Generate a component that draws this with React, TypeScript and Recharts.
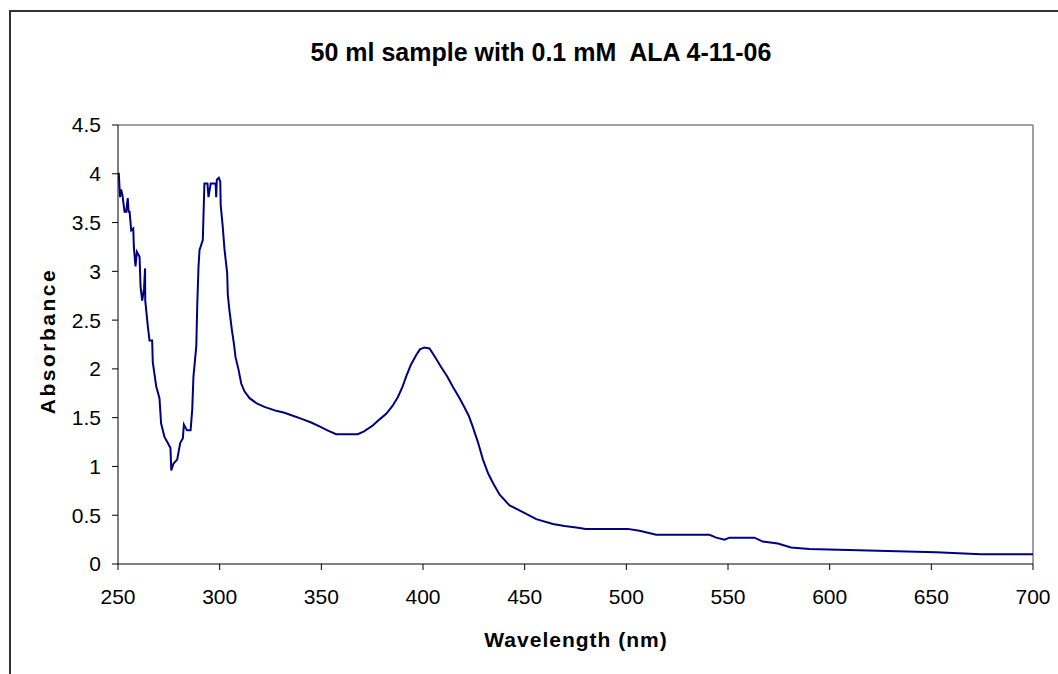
import React from 'react';
import { LineChart, Line, XAxis, YAxis, ReferenceLine, Label } from 'recharts';

const title = '50 ml sample with 0.1 mM\u00a0 ALA 4-11-06';
const xTitle = 'Wavelength (nm)';
const yTitle = 'Absorbance';

const xTicks = [250, 300, 350, 400, 450, 500, 550, 600, 650, 700];
const yTicks = [0, 0.5, 1, 1.5, 2, 2.5, 3, 3.5, 4, 4.5];

// wavelength (nm)
const wavelengths = [
  250, 250.4, 251.0, 251.5, 252.2, 253.2, 254.0, 254.8, 255.2, 255.7,
  256.5, 257.5, 257.8, 258.6, 259.3, 260.6, 261.1, 261.9, 262.8, 263.3,
  263.4, 264.7, 265.5, 266.8, 267.1, 268.8, 270.4, 271.2, 272.9, 274.5,
  275.8, 276.2, 277.3, 279.1, 280.6, 281.9, 282.4, 283.9, 285.7, 286.5,
  287.1, 288.5, 289.0, 289.6, 290.1, 291.7, 292.5, 294.0, 294.5, 295.6,
  298.0, 298.3, 298.6, 299.6, 300.3, 300.5, 301.5, 302.4, 303.7, 304.0,
  304.8, 306.0, 307.0, 307.8, 309.3, 310.6, 312.2, 314.7, 318.0, 322.0,
  327.8, 331.9, 336.0, 340.0, 345.0, 349.1, 353.0, 357.3, 367.9, 371.0,
  375.3, 378.5, 381.9, 385.0, 387.6, 390.0, 391.7, 394.0, 396.6, 398.5,
  400.7, 403.2, 406.0, 408.9, 412.0, 414.6, 418.0, 420.3, 422.5, 424.4,
  427.0, 429.5, 432.0, 434.4, 437.7, 442.6, 448.4, 455.7, 463.9, 469.6,
  475.4, 480.0, 500.7, 506.5, 514.7, 540.9, 544.2, 548.3, 550.7, 563.0,
  567.1, 574.5, 581.0, 590.0, 623.6, 652.3, 674.4, 700,
];

// absorbance at each wavelength
const absorbance = [
  4.0, 4.0, 3.76, 3.84, 3.78, 3.61, 3.61, 3.75, 3.61, 3.61,
  3.42, 3.44, 3.25, 3.05, 3.2, 3.15, 2.84, 2.7, 2.82, 3.03,
  2.7, 2.43, 2.29, 2.29, 2.07, 1.82, 1.7, 1.44, 1.3, 1.24,
  1.19, 0.96, 1.03, 1.07, 1.24, 1.29, 1.43, 1.37, 1.37, 1.58,
  1.92, 2.23, 2.67, 3.05, 3.22, 3.32, 3.9, 3.9, 3.76, 3.9,
  3.9, 3.76, 3.94, 3.96, 3.92, 3.68, 3.46, 3.22, 2.98, 2.76,
  2.6, 2.4, 2.26, 2.12, 1.99, 1.85, 1.77, 1.7, 1.65, 1.61,
  1.57, 1.55, 1.52, 1.49, 1.45, 1.41, 1.37, 1.33, 1.33, 1.36,
  1.42, 1.48, 1.54, 1.62, 1.71, 1.82, 1.92, 2.04, 2.14, 2.2,
  2.22, 2.21, 2.12, 2.02, 1.92, 1.82, 1.7, 1.61, 1.52, 1.41,
  1.25, 1.07, 0.93, 0.83, 0.71, 0.6, 0.54, 0.46, 0.41, 0.39,
  0.375, 0.36, 0.36, 0.34, 0.3, 0.3, 0.27, 0.25, 0.27, 0.27,
  0.23, 0.21, 0.17, 0.155, 0.136, 0.12, 0.1, 0.1,
];

const data = wavelengths.map((wl, i) => ({ wl, abs: absorbance[i] }));

const font = '"Liberation Sans", Arial, sans-serif';

const App = () => (
  <div style={{ position: 'relative', width: 1058, height: 674, fontFamily: font }}>
    <style>{'body{margin:0;overflow:hidden;}'}</style>
    <div
      style={{
        position: 'absolute',
        left: 9,
        top: 10,
        width: 1070,
        height: 700,
        borderLeft: '2px solid #333',
        borderTop: '2px solid #333',
      }}
    />
    <div style={{ position: 'absolute', left: 0, top: 0 }}>
      <LineChart
        width={1058}
        height={674}
        data={data}
        margin={{ top: 125, right: 25, left: 0, bottom: 50 }}
      >
        <text x={541} y={61} textAnchor="middle" fontFamily={font} fontWeight="bold" fontSize={25} fill="#000">
          {title}
        </text>
        <XAxis
          dataKey="wl"
          type="number"
          domain={[250, 700]}
          ticks={xTicks}
          height={60}
          stroke="#000"
          tickSize={6}
          tickMargin={19}
          tick={{ fill: '#000', fontSize: 21, fontFamily: font }}
          allowDataOverflow
        >
          <Label
            content={() => (
              <text x={576} y={647} textAnchor="middle" fontFamily={font} fontWeight="bold" fontSize={21} letterSpacing={1} fill="#000">
                {xTitle}
              </text>
            )}
          />
        </XAxis>
        <YAxis
          type="number"
          domain={[0, 4.5]}
          ticks={yTicks}
          width={118}
          stroke="#000"
          tickSize={6}
          tickMargin={11}
          tick={{ fill: '#000', fontSize: 21, fontFamily: font }}
          allowDataOverflow
        >
          <Label
            content={() => (
              <text
                x={55}
                y={341}
                transform="rotate(-90 55 341)"
                textAnchor="middle"
                fontFamily={font}
                fontWeight="bold"
                fontSize={21}
                letterSpacing={2.5}
                fill="#000"
              >
                {yTitle}
              </text>
            )}
          />
        </YAxis>
        <ReferenceLine y={4.5} stroke="#808080" strokeWidth={1.5} />
        <ReferenceLine x={700} stroke="#808080" strokeWidth={1.5} />
        <Line
          type="linear"
          dataKey="abs"
          stroke="#000080"
          strokeWidth={2}
          dot={false}
          isAnimationActive={false}
        />
      </LineChart>
    </div>
  </div>
);

export default App;
